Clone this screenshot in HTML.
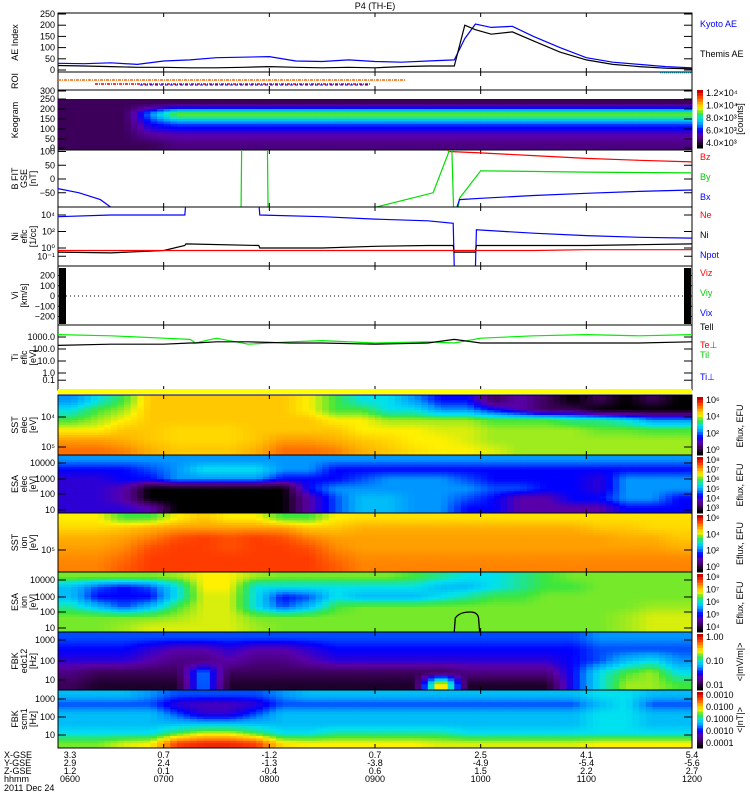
<!DOCTYPE html>
<html><head><meta charset="utf-8">
<style>
body{margin:0;background:#fff;}
svg{display:block;font-family:"Liberation Sans",sans-serif;}
text{font-size:9px;}
</style></head>
<body>
<svg id="chart" width="750" height="800" viewBox="0 0 750 800"></svg>
<script>
// ---------- data ----------
const hourTicks = [6,7,8,9,10,11,12];
const hourLabels = ["0600","0700","0800","0900","1000","1100","1200"];
const xGse = ["3.3","0.7","-1.2","0.7","2.5","4.1","5.4"];
const yGse = ["2.9","2.4","-1.3","-3.8","-4.9","-5.4","-5.6"];
const zGse = ["1.2","0.1","-0.4","0.6","1.5","2.2","2.7"];

const aeTimes = [6,6.25,6.5,6.75,7,7.25,7.5,7.75,8,8.25,8.5,8.75,9,9.25,9.5,9.75,9.85,9.95,10.1,10.3,10.5,10.75,11,11.25,11.5,11.75,12];
const kyotoAE = [30,28,32,25,40,45,55,57,60,40,38,45,38,35,40,45,140,205,190,195,150,100,55,35,25,15,10];
const themisAE = [20,18,15,12,12,10,10,12,15,12,10,12,10,15,18,18,200,180,160,170,130,80,45,25,15,8,5];

const bzT = [9.55,9.7,10,10.5,11,11.5,12];
const bzV = [150,100,95,85,75,68,62];
const byT = [7.73,7.74,7.98,7.99,9.55,9.7,9.72,9.75,9.8,10,11,12];
const byV = [-200,200,200,-200,-50,100,200,-200,-70,30,25,22];
const bxT = [6,6.2,6.4,6.6,9.75,9.8,10,10.5,11,11.5,12];
const bxV = [-35,-50,-75,-130,-130,-75,-70,-60,-52,-45,-40];

const nT = [6,6.5,7,7.2,7.21,7.9,7.91,8.5,9,9.5,9.74,9.75,9.95,9.96,10.5,11,11.5,12];
const niLog = [3.8,4.0,4.0,4.0,5.5,5.5,4.0,3.8,3.5,3.3,3.0,-2.5,-2.5,2.2,1.8,1.5,1.3,1.2];
const nbLog = [-0.5,-0.6,-0.3,0.3,0.5,0.3,0.0,0.0,0.2,0.3,0.3,-0.5,-0.5,0.3,0.3,0.3,0.4,0.5];
const neLog = [-0.3,-0.3,-0.3,-0.3,-0.3,-0.3,-0.3,-0.3,-0.3,-0.3,-0.3,-0.3,-0.3,-0.3,-0.3,-0.2,-0.2,-0.2];

const tT = [6,6.5,7,7.25,7.3,7.5,7.8,8.2,8.5,9,9.5,9.75,10,10.5,11,11.5,12];
const tiLog = [3.2,3.1,2.9,2.8,2.5,2.9,2.4,2.6,2.7,2.5,2.6,2.5,2.9,3.1,3.2,3.1,3.2];
const teLog = [2.3,2.4,2.4,2.5,2.5,2.6,2.6,2.5,2.5,2.4,2.5,2.8,2.5,2.5,2.5,2.5,2.6];

const keogram = [
 [1,1,1,1,1,1,1,1,1,1,1,1,1,1,1,1,1,1,1,1,1,1,1,1],
 [1,1,1,4,6.5,6.5,6.5,6.5,6.5,6.5,6.5,6.5,6.5,6.5,6.5,6.5,6.5,6.5,6.5,6.5,6.5,6.5,6.5,6.5],
 [1,1,1,3,3.5,3.5,3.5,3.5,3.5,3.5,3.5,3.5,3.5,3.5,3.5,3.5,3.5,3.5,3.5,3.5,3.5,3.5,3.5,3.5],
 [1,1,1,2,2.2,2.2,2.2,2.2,2.2,2.2,2.2,2.2,2.2,2.2,2.2,2.2,2.2,2.2,2.2,2.2,2.2,2.2,2.2,2.2],
 [1,1,1,1,1.5,1.5,1.5,1.5,1.5,1.5,1.5,1.5,1.5,1.5,1.5,1.5,1.5,1.5,1.5,1.5,1.5,1.5,1.5,1.5]];
const sst1 = [
 [4,5,6,7.5,7.5,7.5,7.5,7.5,7.5,7,6,5,5,4,3,3,1,2,1,0,1,0,1,0],
 [5,6,6.5,7.5,7.5,7.5,7.5,7.5,7.5,7,6,6,5,5,4,4,3,2,1,1,0,0,0,0],
 [6,6.5,7,7.5,7.5,7.5,7.5,7.5,7.5,7.5,7,7,6.5,6.5,6.5,6.5,6,6,6,5.5,5.5,5,4,4],
 [7,7,7.5,7.5,7.3,7.3,7.3,7.5,7.5,7.5,7.5,7,7,7,6.8,6.8,6.5,6.5,6.5,6.5,6.2,6.2,6,6],
 [8,8,7.8,7.5,7.3,7.3,7.3,7.5,8,8,7.8,7.5,7.3,7,7,6.8,6.5,6.5,6.5,6.5,6.5,6.5,6.5,6.5],
 [8.5,8.5,8.3,7.8,7.5,7.5,7.5,7.8,8.5,8.5,8.3,7.8,7.5,7.2,7,7,6.8,6.5,6.5,6.5,6.5,6.5,6.5,6.5]];
const esa1 = [
 [4,4,4,4,4,4,4,4,4,4,4,4,4,4,4,4,4,4,4,4,4,4,4,4],
 [3,3,3,3.5,4,5,5,5,4,4,3,3,3,3,3,3,3,3,3,3,3,3,3,3],
 [2.5,2.5,3,3,4,4,4,4,3,3,3,3.5,4,4,4,3.5,3,3,3,3,2.5,4,4,4],
 [2.5,2.5,2,0,0,0,0,0,0,3,4,4,4,4,4,4,3.5,3.5,3,3,2.5,4,4,4],
 [2.5,2.5,2,0,0,0,0,0,0,2,3.5,4.5,4.5,4,4,3.5,3,2,2,3,3,4,4,3],
 [2.5,2.5,2.5,2,0,0,0,0,0,2,3.5,4.5,4.5,4,4,3,3,2,2,2,2,3,3,3]];
const sst2 = [
 [7,7,6,6,7,7.5,7,7,6,6,7,7.2,7.2,7.2,7.2,7.2,7.2,7.2,7.2,7.2,7.2,7.2,7.2,7.2],
 [7.3,7.3,7.5,7.8,8,8,8,8,8,7.5,7.5,7.8,7.8,7.8,7.8,7.8,7.8,7.8,7.8,7.8,7.5,7.5,7.3,7.3],
 [7.8,7.8,8,8.3,8.8,9,8.8,9,8.8,8.3,8,8,8,8,8,8,8,8,8,8,8,7.8,7.8,7.5],
 [8,8,8.2,8.8,9,9,8.8,9,9,8.8,8.2,8,8,8,8,8,8,8,8,8,8,8,8,7.8],
 [8.2,8.2,8.5,9,9,9,9,9,9,9,8.5,8.2,8.2,8.2,8.2,8.2,8.2,8.2,8.2,8.2,8.2,8.2,8.2,8.2],
 [8.3,8.3,8.7,9,9,9,9,9,9,9,8.7,8.3,8.3,8.3,8.3,8.3,8.3,8.3,8.3,8.3,8.3,8.3,8.3,8.3]];
const esa2 = [
 [6.3,6.3,6.3,6.3,6.5,7,7,6.5,6.3,6.3,6.3,6.3,6.3,6,5.5,5,5,5.5,6,6.3,6.3,6.3,6.3,6.3],
 [4.5,3.5,3,3.5,5,7,7,5,5,5,5,5,5,5,4.5,4.5,5,5.5,6,6,6.3,6.3,6.3,6.3],
 [4.5,3,3,3,5,6.8,6.8,5,3,3.5,5,4.5,4.5,4.5,5,5.5,6,6,6.3,6.3,6.3,6.3,6.3,6.3],
 [5.5,4.5,3.5,4.5,6,6.8,6.8,5,3.5,4.5,6,6.3,6.3,6.3,6.3,6.3,6.3,6.3,6.3,6.3,6.3,6.3,6.5,6.5],
 [6.3,6.3,6.3,6.3,6.5,6.8,6.8,6.3,6.3,6.3,6.3,6.3,6.3,6.3,6.3,6.3,6.3,6.3,6.3,6.3,6.3,6.5,6.8,6.8],
 [6.3,6.3,6.5,6.8,6.8,6.8,6.8,6.5,6.3,6.3,6.3,6.3,6.3,6.3,6.3,6.3,6.3,6.3,6.3,6.3,6.3,6.5,6.8,6.8]];
const fbk1 = [
 [3.5,3.5,3.5,3.5,3.5,3.5,3.5,3.5,3.5,3.5,3.5,3.5,3.5,3.5,3.5,3.5,3.5,3.5,3.5,3.5,4,4,4,4],
 [3,3,3,2.5,2,2,2.5,2,2,2.5,3,3,3,3,3,3,3,3,3,3,3.5,3.5,3.5,3.5],
 [2.5,2.5,2.5,2,1.5,1.5,2,1.5,1.5,2,2.5,2.5,2.5,2.5,2.5,2.5,2.5,2.5,2.5,3,3.5,4.5,5,4],
 [1.5,1,1,1,1,4,1,1,1,1,1,1,1,1,1,1.5,1.5,1.5,1.5,3,5,6,6.5,5],
 [1,0.5,0.5,0.5,0.5,4,0.5,0.5,0.5,0.5,0.5,0.5,0.5,0.5,8,0.5,0.5,0.5,0.5,3,5,6.5,6.5,6]];
const fbk2 = [
 [4.5,4.5,4.5,4,3.5,3.5,3.5,3.5,4,4.5,4.5,4.5,4.5,4.5,4.5,4.5,4.5,4.5,4.5,4.5,5,5,4.5,4.5],
 [3.5,3.5,3.5,3.5,2.5,2.2,2.2,2.5,3.5,3.5,3.5,3.5,3.5,3.5,3.5,3.5,3.5,3.5,3.5,3.5,4.5,5,3.5,3.5],
 [4.5,4.5,4.5,4.5,3.5,2.5,2.5,3.5,4.5,4.5,4.5,4.5,4.5,4.5,4.5,4.5,4.5,4.5,4.5,4.5,5,5,4.5,4.5],
 [4.5,4.5,4.5,4.5,4.5,4.5,4.5,4.5,4.5,4.5,4.5,4.5,4.5,4.5,4.5,4.5,4.5,4.5,4.5,4.5,5,5,4.5,4.5],
 [5,5,5,5,6,6.8,6.8,6,5,5,5.5,5.5,5.5,5.5,5.5,5,5,5,5,5,5,5,5,5],
 [6.3,6.3,6.8,7,9,9.3,9.3,9,7.2,7,7,7,7,7,6.8,6.8,6.8,6.8,6.8,6.8,7,7,7,7]];

// ---------- helpers ----------
const NS="http://www.w3.org/2000/svg";
const svg=document.getElementById('chart');
const X0=58,X1=692;
function xs(t){return X0+(t-6)/6*(X1-X0);}
function mk(tag,attrs,parent){const e=document.createElementNS(NS,tag);for(const k in attrs)e.setAttribute(k,attrs[k]);(parent||svg).appendChild(e);return e;}
const stops=[[0,0,0],[60,0,90],[90,0,170],[0,0,255],[0,150,255],[0,225,240],[60,230,60],[255,240,0],[255,160,0],[255,60,0],[200,0,0]];
function cmap(v){v=Math.max(0,Math.min(10,v));const i=Math.floor(v),f=v-i;const a=stops[i],b=stops[Math.min(10,i+1)];return `rgb(${a.map((c,k)=>Math.round(c+(b[k]-c)*f)).join(',')})`;}
function txt(x,y,s,opt){const e=mk('text',Object.assign({x:x,y:y},opt||{}));e.textContent=s;return e;}

function sample(mat,r,c){
  const rows=mat.length,cols=mat[0].length;
  r=Math.max(0,Math.min(rows-1,r));c=Math.max(0,Math.min(cols-1,c));
  const r0=Math.floor(r),c0=Math.floor(c),r1=Math.min(rows-1,r0+1),c1=Math.min(cols-1,c0+1),fr=r-r0,fc=c-c0;
  return (mat[r0][c0]*(1-fc)+mat[r0][c1]*fc)*(1-fr)+(mat[r1][c0]*(1-fc)+mat[r1][c1]*fc)*fr;
}
function heat(mat,y0,y1,name){
  const g=mk('g',{});
  
  
  const rows=mat.length,cols=mat[0].length,K=4;
  const nr=rows*K,nc=cols*K,h=(y1-y0)/nr,w=(X1-X0)/nc;
  for(let i=0;i<nr;i++)for(let j=0;j<nc;j++){
    const v=sample(mat,(i+0.5)/K-0.5,(j+0.5)/K-0.5);
    const c=mk('rect',{x:(X0+j*w).toFixed(2),y:(y0+i*h).toFixed(2),width:(w+0.5).toFixed(2),height:(h+0.5).toFixed(2),fill:cmap(v)},g);
    
    
  }
}
function clip(id,y0,y1){const cp=mk('clipPath',{id:id});mk('rect',{x:X0,y:y0,width:X1-X0,height:y1-y0},cp);}
function line(ts,vs,yf,color,name,cid){
  const p=mk('polyline',{points:ts.map((t,i)=>xs(t).toFixed(1)+','+yf(vs[i]).toFixed(1)).join(' '),fill:'none',stroke:color,'stroke-width':1.2,'clip-path':'url(#'+cid+')'});
  
  
}
function frame(y0,y1,name){
  const r=mk('rect',{x:X0,y:y0,width:X1-X0,height:y1-y0,fill:'none',stroke:'#000','stroke-width':1});
  
  
  hourTicks.forEach(t=>{mk('line',{x1:xs(t),x2:xs(t),y1:y1,y2:y1-4,stroke:'#000'});mk('line',{x1:xs(t),x2:xs(t),y1:y0,y2:y0+4,stroke:'#000'});});
}
function ylab(lines,y0,y1){const cy=(y0+y1)/2;lines.forEach((s,i)=>{const x=18+i*9;txt(x,cy,s,{transform:`rotate(-90 ${x} ${cy})`,'text-anchor':'middle','font-size':'8'});});}
function ytick(y,s){mk('line',{x1:X0,x2:X0+8,y1:y,y2:y,stroke:'#000'});mk('line',{x1:X1,x2:X1-8,y1:y,y2:y,stroke:'#000'});txt(X0-3,y+3,s,{'text-anchor':'end'});}
function legend(y,s,c){txt(700,y,s,{fill:c,'font-size':'8'});}
function cbar(y0,y1,labels,title){
  const g=mk('g',{});
  const n=20;for(let i=0;i<n;i++)mk('rect',{x:697,y:y0+(y1-y0)*i/n,width:6,height:(y1-y0)/n+0.5,fill:cmap(10-10*i/(n-1))},g);
  labels.forEach((s,i)=>txt(706,y0+6+(y1-y0-8)*i/Math.max(1,labels.length-1),s,{'font-size':'7'}));
  const cy=(y0+y1)/2;txt(743,cy,title,{transform:`rotate(-90 743 ${cy})`,'text-anchor':'middle','font-size':'7'});
}

// title
txt(375,9,"P4 (TH-E)",{'text-anchor':'middle','font-size':'10',});

// AE panel
const aeY=v=>70-v*0.224;
clip('cAE',13,72);
frame(13,72,'ae-panel');
[0,50,100,150,200,250].forEach(v=>ytick(aeY(v),v));
ylab(["AE Index"],13,72);
line(aeTimes,kyotoAE,aeY,'#00f','kyoto-ae-line','cAE');
line(aeTimes,themisAE,aeY,'#000','themis-ae-line','cAE');
legend(27,"Kyoto AE",'#00f');legend(57,"Themis AE",'#000');
mk('line',{x1:660,x2:692,y1:73,y2:73,stroke:'#0cf','stroke-dasharray':'1,1'});

// ROI panel
frame(72,90,'roi-panel');ylab(["ROI"],72,90);
mk('line',{x1:58,x2:405,y1:80,y2:80,stroke:'#f60','stroke-width':1.5,'stroke-dasharray':'3,1,1,1'});
mk('line',{x1:95,x2:370,y1:84,y2:84,stroke:'#e00','stroke-width':1.5,'stroke-dasharray':'3,1,1,1'});
mk('line',{x1:140,x2:370,y1:85,y2:85,stroke:'#00f','stroke-width':1,'stroke-dasharray':'3,2'});

// Keogram
frame(90,150,'keogram-panel');
heat(keogram,99,149,'keogram');
[[300,91],[250,99],[200,109],[150,119],[100,129],[50,139],[0,148]].forEach(a=>ytick(a[1],a[0]));
ylab(["Keogram"],90,150);
cbar(90,148,["1.2×10⁴","1.0×10⁴","8.0×10³","6.0×10³","4.0×10³"],"[counts]");

// B panel
const bY=v=>179-v*0.275;
clip('cB',150,207);frame(150,207,'b-field-panel');
[[100,'100'],[50,'50'],[0,'0'],[-50,'−50']].forEach(a=>ytick(bY(a[0]),a[1]));
ylab(["B FIT","GSE","[nT]"],150,207);
line(bzT,bzV,bY,'#f00','bz-line','cB');
line(byT,byV,bY,'#0d0','by-line','cB');
line(bxT,bxV,bY,'#00f','bx-line','cB');
legend(160,"Bz",'#f00');legend(180,"By",'#0c0');legend(200,"Bx",'#00f');

// N panel
const nY=v=>248-v*8.25;
clip('cN',207,266);frame(207,266,'density-panel');
[[4,'10⁴'],[2,'10²'],[0,'10⁰'],[-1,'10⁻¹']].forEach(a=>ytick(nY(a[0]),a[1]));
ylab(["Ni","eflc","[1/cc]"],207,266);
line(nT,niLog,nY,'#00f','ni-line','cN');
line(nT,nbLog,nY,'#000','npot-line','cN');
line(nT,neLog,nY,'#f00','ne-line','cN');
legend(218,"Ne",'#f00');legend(238,"Ni",'#000');legend(258,"Npot",'#00f');

// V panel
const vY=v=>296-v*0.1025;
frame(266,325,'velocity-panel');
[[200,'200'],[100,'100'],[0,'0'],[-100,'−100'],[-200,'−200']].forEach(a=>ytick(vY(a[0]),a[1]));
ylab(["Vi","[km/s]"],266,325);
mk('line',{x1:X0,x2:X1,y1:296,y2:296,stroke:'#000','stroke-dasharray':'1,3'});
mk('rect',{x:59,y:268,width:7,height:56,fill:'#000'});mk('rect',{x:684,y:268,width:7,height:56,fill:'#000'});
legend(276,"Viz",'#f00');legend(296,"Viy",'#0c0');legend(316,"Vix",'#00f');

// T panel
const tY=v=>373-v*12;
clip('cT',325,390);frame(325,390,'temperature-panel');
[[3,'1000.0'],[2,'100.0'],[1,'10.0'],[0,'1.0'],[-0.6,'0.1']].forEach(a=>ytick(tY(a[0]),a[1]));
ylab(["Ti","eflc","[eV]"],325,390);
line(tT,tiLog,tY,'#0e0','ti-line','cT');
line(tT,teLog,tY,'#000','te-line','cT');
legend(330,"Tell",'#000');legend(348,"Te⊥",'#f00');legend(358,"Til",'#0c0');legend(380,"Ti⊥",'#00f');

// yellow bar
mk('rect',{x:X0,y:389,width:X1-X0,height:5,fill:'#ff0',});

// spectrograms
heat(sst1,395,455,'sst-electron-spectrogram');frame(395,455,'sst1-panel');
ytick(417,'10⁴');ytick(447,'10⁵');ylab(["SST","elec","[eV]"],395,455);
cbar(397,455,["10⁶","10⁴","10²","10⁰"],"Eflux, EFU");
heat(esa1,455,513,'esa-electron-spectrogram');frame(455,513,'esa1-panel');
ytick(463,'10000');ytick(479,'1000');ytick(494,'100');ytick(510,'10');ylab(["ESA","elec","[eV]"],455,513);
cbar(457,513,["10⁸","10⁷","10⁶","10⁵","10⁴","10³"],"Eflux, EFU");
heat(sst2,513,572,'sst-ion-spectrogram');frame(513,572,'sst2-panel');
ytick(550,'10⁵');ylab(["SST","ion","[eV]"],513,572);
cbar(515,572,["10⁶","10⁴","10²","10⁰"],"Eflux, EFU");
heat(esa2,572,632,'esa-ion-spectrogram');frame(572,632,'esa2-panel');
ytick(580,'10000');ytick(597,'1000');ytick(612,'100');ytick(628,'10');ylab(["ESA","ion","[eV]"],572,632);
cbar(574,632,["10⁸","10⁷","10⁶","10⁵","10⁴"],"Eflux, EFU");
mk('path',{d:`M${xs(9.75)} 632 L${xs(9.76)} 618 Q${xs(9.8)} 612 ${xs(9.9)} 612 Q${xs(9.97)} 612 ${xs(9.98)} 618 L${xs(9.99)} 632`,fill:'none',stroke:'#000','stroke-width':1.3});
heat(fbk1,632,690,'fbk-edc12-spectrogram');frame(632,690,'fbk1-panel');
ytick(640,'1000');ytick(661,'100');ytick(680,'10');ylab(["FBK","edc12","[Hz]"],632,690);
cbar(634,690,["1.00","0.10","0.01"],"<|mV/m|>");
heat(fbk2,690,748,'fbk-scm-spectrogram');frame(690,748,'fbk2-panel');
ytick(699,'1000');ytick(717,'100');ytick(735,'10');ylab(["FBK","scm1","[Hz]"],690,748);
cbar(692,748,["0.0010","0.0100","0.1000","0.0010","0.0001"],"<|nT|>");

// bottom labels
const bl=[["X-GSE",758],["Y-GSE",766],["Z-GSE",774],["hhmm",782]];
bl.forEach(a=>txt(4,a[1],a[0],{'font-size':'8'}));
txt(4,791,"2011 Dec 24",{'font-size':'8'});
hourTicks.forEach((t,i)=>{
  const x=i===0?70:xs(t);
  txt(x,758,xGse[i],{'text-anchor':'middle','font-size':'8'});
  txt(x,766,yGse[i],{'text-anchor':'middle','font-size':'8'});
  txt(x,774,zGse[i],{'text-anchor':'middle','font-size':'8'});
  const e=txt(x,782,hourLabels[i],{'text-anchor':'middle','font-size':'8'});
  
  
});
</script>
</body></html>
